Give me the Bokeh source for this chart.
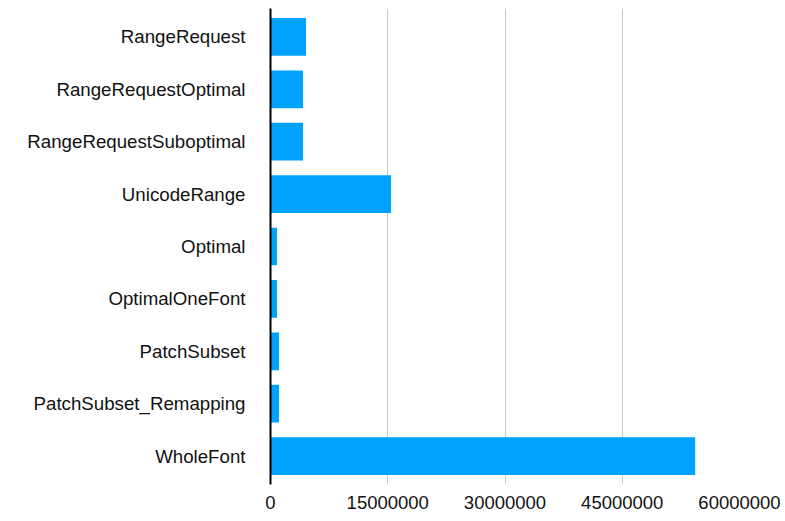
from bokeh.plotting import figure
from bokeh.models import FactorRange, Range1d, FixedTicker, ColumnDataSource
from bokeh.embed import file_html
from bokeh.resources import INLINE

categories = ["RangeRequest", "RangeRequestOptimal", "RangeRequestSuboptimal",
              "UnicodeRange", "Optimal", "OptimalOneFont", "PatchSubset",
              "PatchSubset_Remapping", "WholeFont"]
values = [4540000, 4160000, 4160000, 15420000, 830000, 830000, 1090000, 1090000, 54330000]
x_ticks = [0, 15000000, 30000000, 45000000, 60000000]
x_tick_labels = {t: str(t) for t in x_ticks}

source = ColumnDataSource(dict(cat=categories, val=values))

p = figure(
    y_range=FactorRange(factors=list(reversed(categories)), range_padding=0.0093,
                        range_padding_units="percent"),
    x_range=Range1d(0, 60000000),
    frame_width=469, frame_height=476,
    min_border_left=270, min_border_right=46, min_border_top=8, min_border_bottom=0,
    output_backend="svg", toolbar_location=None,
)

p.hbar(y="cat", right="val", left=0, height=0.72, source=source,
       fill_color="#00a2ff", line_color=None)

p.outline_line_color = None
p.background_fill_color = "white"
p.border_fill_color = "white"

# x axis
p.xaxis.ticker = FixedTicker(ticks=x_ticks)
p.xaxis.major_label_overrides = x_tick_labels
p.xaxis.axis_line_color = None
p.xaxis.major_tick_line_color = None
p.xaxis.minor_tick_line_color = None
p.xaxis.major_tick_out = 0
p.xaxis.major_tick_in = 0
p.xaxis.major_label_standoff = 11
p.xaxis.major_label_text_font = "Liberation Sans"
p.xaxis.major_label_text_font_size = "18.5px"
p.xaxis.major_label_text_color = "#111111"

# y axis
p.yaxis.axis_line_color = "black"
p.yaxis.axis_line_width = 2
p.yaxis.major_tick_line_color = None
p.yaxis.minor_tick_line_color = None
p.yaxis.major_tick_out = 0
p.yaxis.major_tick_in = 0
p.yaxis.major_label_standoff = 25
p.yaxis.major_label_text_font = "Liberation Sans"
p.yaxis.major_label_text_font_size = "18.7px"
p.yaxis.major_label_text_color = "#111111"

p.xgrid.grid_line_color = "#c8c8c8"
p.xgrid.grid_line_width = 1
p.ygrid.grid_line_color = None

open("out.html", "w").write(file_html(p, INLINE))
